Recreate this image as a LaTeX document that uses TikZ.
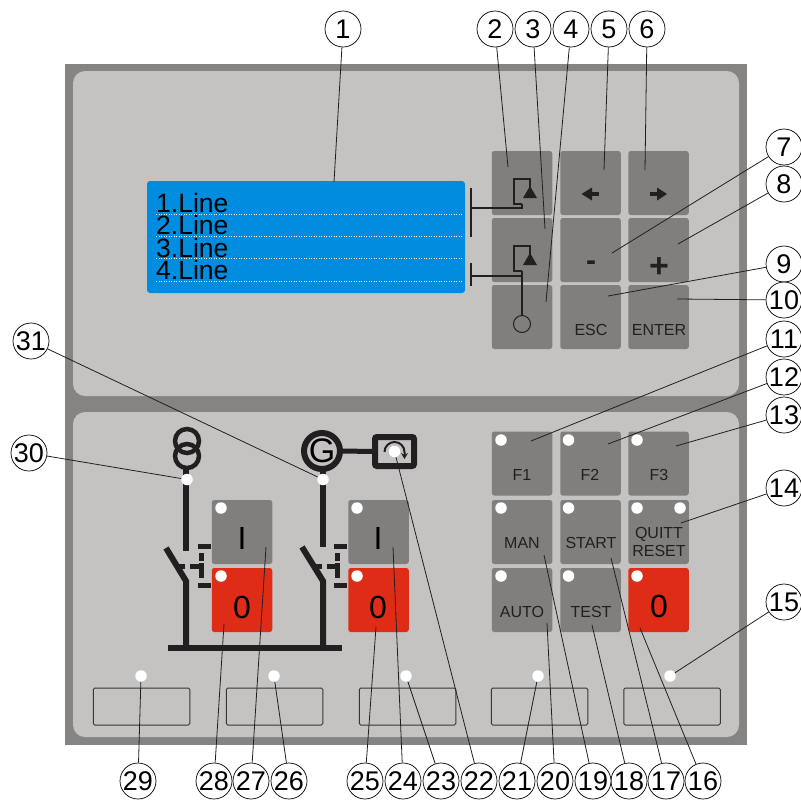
\documentclass[tikz,border=0pt]{standalone}
\usepackage{fontspec}
\setmainfont{Liberation Sans}
\usetikzlibrary{arrows.meta}
\definecolor{frameGrey}{HTML}{858482}
\definecolor{panelGrey}{HTML}{C4C3C1}
\definecolor{keyGrey}{HTML}{807F7D}
\definecolor{stopRed}{HTML}{DE2C17}
\definecolor{lcdBlue}{HTML}{008CDF}
\definecolor{ink}{HTML}{231F20}

\begin{document}
\begin{tikzpicture}[
  x=1pt, y=-1pt,
  callout/.style={
    circle, draw=black, line width=0.7pt, fill=white,
    minimum size=36pt, inner sep=0pt,
    font=\fontsize{27}{27}\selectfont
  },
  leader/.style={draw=ink, line width=0.8pt},
  keyBase/.style={
    rectangle, rounded corners=2.5pt, draw=none,
    minimum width=60.5pt, minimum height=64pt, inner sep=0pt
  },
  key/.style={keyBase, fill=keyGrey},
  stopKey/.style={keyBase, fill=stopRed},
  led/.style={circle, fill=white, draw=none, minimum size=11.5pt, inner sep=0pt},
  keyText/.style={font=\fontsize{16}{16}\selectfont, color=ink, inner sep=0pt},
  bigText/.style={font=\fontsize{32}{32}\selectfont, color=black, inner sep=0pt},
  lcdText/.style={font=\fontsize{26.5}{22.5}\selectfont, color=black, inner sep=0pt, align=left, anchor=north west},
  lcdRule/.style={draw=white, line width=0.7pt, dash pattern=on 0.9pt off 1.6pt},
  softKey/.style={
    rectangle, rounded corners=1.5pt, draw=ink!90, line width=1pt,
    minimum width=96.5pt, minimum height=37pt, inner sep=0pt
  },
  bar/.style={draw=ink, line width=6pt},
  dashBar/.style={draw=ink, line width=5pt},
  symbolLine/.style={draw=ink, line width=1.5pt}
]
\useasboundingbox (0,0) rectangle (801,801);

% --- Housing and panels ---
\fill[frameGrey] (65,64) rectangle (747,745);
\fill[panelGrey, rounded corners=12pt] (73,71) rectangle (739,396);
\fill[panelGrey, rounded corners=12pt] (73,412) rectangle (739,737);

% --- Display ---
\node[rectangle, rounded corners=3pt, fill=lcdBlue, minimum width=318pt, minimum height=112pt, inner sep=0pt] (lcd) at (306,237) {};
\draw[lcdRule] (156,214) -- (462,214);
\draw[lcdRule] (156,236) -- (462,236);
\draw[lcdRule] (156,258) -- (462,258);
\draw[lcdRule] (156,281) -- (462,281);
\node[lcdText] (lcdLines) at (156,193) {1.Line\\2.Line\\3.Line\\4.Line};

% --- Upper keypad ---
\node[key] (upA) at (522,183) {};
\node[key] (upB) at (522,250) {};
\node[key] (power) at (522,317) {};
\node[key] (left) at (590.5,183) {};
\node[key] (minus) at (590.5,250) {};
\node[key] (esc) at (590.5,317) {};
\node[key] (right) at (658.5,183) {};
\node[key] (plus) at (658.5,250) {};
\node[key] (enter) at (658.5,317) {};

\node[font=\bfseries\fontsize{30}{30}\selectfont, color=ink, inner sep=0pt] (minusText) at (591,266) {-};
\node[font=\bfseries\fontsize{34}{34}\selectfont, color=ink, inner sep=0pt] (plusText) at (659,268) {+};
\node[keyText] (escText) at (591,330) {ESC};
\node[keyText] (enterText) at (659,330) {ENTER};

% --- Cursor arrows on the keys ---
\fill[ink] (581.5,194) -- (592,187.5) -- (592,200.5) -- cycle;
\fill[ink] (590,192.2) rectangle (599,195.8);
\fill[ink] (667,194) -- (657,187.5) -- (657,200.5) -- cycle;
\fill[ink] (650,192.2) rectangle (659,195.8);

% --- Display contrast symbols ---
\draw[symbolLine] (471,188) -- (471,237);
\draw[symbolLine] (471,263) -- (471,286);
\draw[symbolLine, line width=2.4pt] (522,204) -- (514,204) -- (514,179) -- (530,179) -- (530,188);
\fill[ink] (530,186) -- (537,198) -- (523,198) -- cycle;
\draw[symbolLine, line width=2.4pt] (522,271) -- (514,271) -- (514,246) -- (530,246) -- (530,255);
\fill[ink] (530,253) -- (537,265) -- (523,265) -- cycle;
\node[circle, draw=ink, line width=1pt, minimum size=17pt, inner sep=0pt] (powerRing) at (522,324) {};
\coordinate (tickA) at (471,208);
\coordinate (tickB) at (471,276);
\coordinate (upAFoot) at (522,204);
\coordinate (upBFoot) at (522,276);
\coordinate (upBBase) at (522,271);
\draw[draw=ink, line width=1.2pt] (tickA) -| (upAFoot);
\draw[draw=ink, line width=1.2pt] (tickB) -- (upBFoot);
\draw[draw=ink, line width=1.2pt] (powerRing) -- (upBBase);

% --- Lower keypad ---
\node[key] (f1) at (522,463.5) {};
\node[key] (f2) at (590.5,463.5) {};
\node[key] (f3) at (658.5,463.5) {};
\node[key] (man) at (522,532) {};
\node[key] (start) at (590.5,532) {};
\node[key] (quitt) at (658.5,532) {};
\node[key] (auto) at (522,600) {};
\node[key] (test) at (590.5,600) {};
\node[stopKey] (stop) at (658.5,600) {};

\node[led] (ledF1) at (501,440) {};
\node[led] (ledF2) at (568.5,440) {};
\node[led] (ledF3) at (637,440) {};
\node[led] (ledMan) at (501,508) {};
\node[led] (ledStart) at (568.5,508) {};
\node[led] (ledQuitt) at (637,508) {};
\node[led] (ledReset) at (680,508) {};
\node[led] (ledAuto) at (501,576) {};
\node[led] (ledTest) at (568.5,576) {};
\node[led] (ledStop) at (637,576) {};

\node[keyText] (f1Text) at (522,475) {F1};
\node[keyText] (f2Text) at (590,475) {F2};
\node[keyText] (f3Text) at (659,475) {F3};
\node[keyText] (manText) at (522,543) {MAN};
\node[keyText] (startText) at (591,543) {START};
\node[keyText] (quittText) at (659,534) {QUITT};
\node[keyText] (resetText) at (659,551) {RESET};
\node[keyText] (autoText) at (522,612) {AUTO};
\node[keyText] (testText) at (591,612) {TEST};
\node[bigText] (stopText) at (659,606) {0};

% --- Breaker keys ---
\node[key] (closeA) at (242,532) {};
\node[stopKey] (openA) at (242,600) {};
\node[key] (closeB) at (378.5,532) {};
\node[stopKey] (openB) at (378.5,600) {};
\node[led] (ledCloseA) at (221,508) {};
\node[led] (ledOpenA) at (221,576) {};
\node[led] (ledCloseB) at (357,508) {};
\node[led] (ledOpenB) at (357,576) {};
\node[bigText] (closeAText) at (242,538) {I};
\node[bigText] (openAText) at (242,607) {0};
\node[bigText] (closeBText) at (378,538) {I};
\node[bigText] (openBText) at (378,607) {0};

% --- Single line schematic ---
\draw[bar] (186,466) -- (186,551);
\draw[bar] (166,548) -- (186,581) -- (186,648);
\draw[bar] (323,466) -- (323,547);
\draw[bar] (302,547) -- (323,581) -- (323,648);
\draw[bar] (168,648) -- (342,648);
\draw[dashBar] (178,566) -- (185,566);
\draw[dashBar] (190,566) -- (204,566);
\draw[dashBar] (201,553) -- (201,561);
\draw[dashBar] (201,563) -- (201,578);
\draw[dashBar] (198,546.5) -- (211,546.5);
\draw[dashBar] (198,585) -- (211,585);
\draw[dashBar] (315,566) -- (322,566);
\draw[dashBar] (327,566) -- (340,566);
\draw[dashBar] (337,553) -- (337,561);
\draw[dashBar] (337,563) -- (337,578);
\draw[dashBar] (334,546.5) -- (347,546.5);
\draw[dashBar] (334,585) -- (347,585);

\node[circle, draw=ink, line width=4.5pt, minimum size=24pt, inner sep=0pt] (trafoTop) at (187,441) {};
\node[circle, draw=ink, line width=4.5pt, minimum size=24pt, inner sep=0pt] (trafoBot) at (187,456) {};
\node[circle, draw=ink, line width=6pt, minimum size=36pt, inner sep=0pt, font=\fontsize{34}{34}\selectfont] (gen) at (322,451) {G};
\node[rectangle, rounded corners=2pt, draw=ink, line width=6pt, minimum width=39pt, minimum height=29pt, inner sep=0pt] (speed) at (394.5,451.5) {};
\draw[draw=ink, line width=5pt] (gen) -- (speed);
\draw[draw=ink, line width=2pt, -{Stealth[length=6pt,width=7pt]}] (384.5,452) arc[start angle=180, end angle=360, radius=10] -- (404.5,459);
\node[led] (ledGrid) at (187,479.5) {};
\node[led] (ledGen) at (323,479.5) {};
\node[led] (ledSpeed) at (394.5,451.5) {};

% --- Soft keys along the bottom ---
\node[softKey] (softA) at (141.5,706.5) {};
\node[softKey] (softB) at (274.5,706.5) {};
\node[softKey] (softC) at (407.5,706.5) {};
\node[softKey] (softD) at (539.5,706.5) {};
\node[softKey] (softE) at (672,706.5) {};
\node[led] (ledA) at (141,676) {};
\node[led] (ledB) at (274,676) {};
\node[led] (ledC) at (406,676) {};
\node[led] (ledD) at (538,676) {};
\node[led] (ledE) at (670,676) {};

% --- Number circles ---
\node[callout] (n1) at (343,29) {1};
\node[callout] (n2) at (495,29) {2};
\node[callout] (n3) at (533,29) {3};
\node[callout] (n4) at (571,29) {4};
\node[callout] (n5) at (609,29) {5};
\node[callout] (n6) at (647,29) {6};
\node[callout] (n7) at (784,147) {7};
\node[callout] (n8) at (784,184) {8};
\node[callout] (n9) at (784,264) {9};
\node[callout] (n10) at (784,300) {10};
\node[callout] (n11) at (784,339) {11};
\node[callout] (n12) at (784,377) {12};
\node[callout] (n13) at (784,415) {13};
\node[callout] (n14) at (784,488) {14};
\node[callout] (n15) at (784,602) {15};
\node[callout] (n16) at (703,781) {16};
\node[callout] (n17) at (666,781) {17};
\node[callout] (n18) at (629,781) {18};
\node[callout] (n19) at (593,781) {19};
\node[callout] (n20) at (555,781) {20};
\node[callout] (n21) at (517,781) {21};
\node[callout] (n22) at (479,781) {22};
\node[callout] (n23) at (441,781) {23};
\node[callout] (n24) at (403,781) {24};
\node[callout] (n25) at (365,781) {25};
\node[callout] (n26) at (289,781) {26};
\node[callout] (n27) at (251,781) {27};
\node[callout] (n28) at (214,781) {28};
\node[callout] (n29) at (138,781) {29};
\node[callout] (n30) at (29,453) {30};
\node[callout] (n31) at (31,341) {31};

% --- Free ends of the leaders ---
\coordinate (t1) at (334,182);
\coordinate (t2) at (508,167);
\coordinate (t3) at (545,229);
\coordinate (t4) at (546,302);
\coordinate (t5) at (604,170);
\coordinate (t6) at (645,170);
\coordinate (t7) at (612,253);
\coordinate (t8) at (678,244);
\coordinate (t9) at (608,296);
\coordinate (t10) at (677,299);
\coordinate (t11) at (531,441);
\coordinate (t12) at (608,444);
\coordinate (t13) at (676,446);
\coordinate (t14) at (681,523);
\coordinate (t16) at (640,628);
\coordinate (t17) at (611,558);
\coordinate (t18) at (592,625);
\coordinate (t19) at (544,555);
\coordinate (t20) at (547,623);
\coordinate (t24) at (393,547);
\coordinate (t25) at (376,627);
\coordinate (t27) at (266,547);
\coordinate (t28) at (224,624);

% --- Leaders ---
\draw[leader] (n1) -- (t1);
\draw[leader] (n2) -- (t2);
\draw[leader] (n3) -- (t3);
\draw[leader] (n4) -- (t4);
\draw[leader] (n5) -- (t5);
\draw[leader] (n6) -- (t6);
\draw[leader] (n7) -- (t7);
\draw[leader] (n8) -- (t8);
\draw[leader] (n9) -- (t9);
\draw[leader] (n10) -- (t10);
\draw[leader] (n11) -- (t11);
\draw[leader] (n12) -- (t12);
\draw[leader] (n13) -- (t13);
\draw[leader] (n14) -- (t14);
\draw[leader] (n15) -- (ledE);
\draw[leader] (n16) -- (t16);
\draw[leader] (n17) -- (t17);
\draw[leader] (n18) -- (t18);
\draw[leader] (n19) -- (t19);
\draw[leader] (n20) -- (t20);
\draw[leader] (n21) -- (ledD);
\draw[leader] (n22) -- (ledSpeed);
\draw[leader] (n23) -- (ledC);
\draw[leader] (n24) -- (t24);
\draw[leader] (n25) -- (t25);
\draw[leader] (n26) -- (ledB);
\draw[leader] (n27) -- (t27);
\draw[leader] (n28) -- (t28);
\draw[leader] (n29) -- (ledA);
\draw[leader] (n30) -- (ledGrid);
\draw[leader] (n31) -- (ledGen);

\end{tikzpicture}
\end{document}
